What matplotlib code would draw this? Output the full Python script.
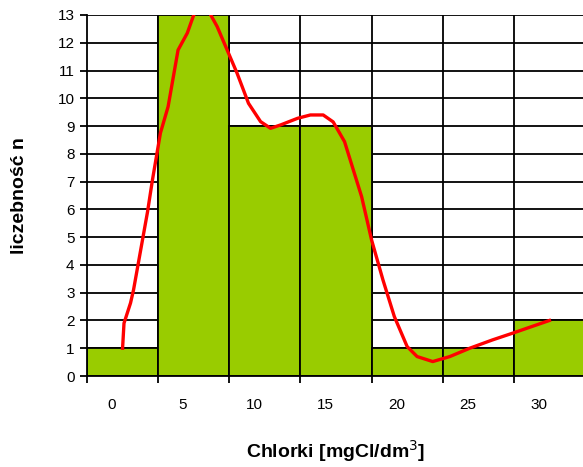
import numpy as np
import matplotlib.pyplot as plt
from matplotlib.ticker import FixedLocator

plt.rcParams['font.family'] = ['Liberation Sans', 'DejaVu Sans']

# histogram classes (class centre, mgCl/dm3) and counts
class_labels = ['0', '5', '10', '15', '20', '25', '30']
counts = [1, 13, 9, 9, 1, 1, 2]

# smoothed curve (mgCl/dm3, n)
curve_x = [0.0, 0.1, 0.56, 0.77, 1.26, 1.75, 2.1, 2.66, 3.2, 3.9, 4.55, 5.0,
           5.6, 6.2, 6.65, 7.35, 8.05, 8.85, 9.7, 10.4, 11.1, 12.3, 13.2,
           14.1, 14.8, 15.6, 16.0, 16.8, 17.5, 18.3, 19.1, 20.0, 20.7, 21.8,
           23.0, 24.4, 26.0, 27.4, 30.0]
curve_y = [1.0, 1.9, 2.63, 3.1, 4.5, 5.9, 7.06, 8.75, 9.7, 11.74, 12.35, 13.0,
           13.5, 13.0, 12.58, 11.74, 10.9, 9.82, 9.16, 8.92, 9.04, 9.28, 9.4,
           9.4, 9.15, 8.44, 7.78, 6.46, 4.9, 3.46, 2.14, 1.06, 0.7, 0.52,
           0.7, 1.0, 1.3, 1.54, 2.0]

fig = plt.figure(figsize=(5.83, 4.67), dpi=100)
ax = fig.add_axes([87/583, 91/467, 498/583, 361/467])

index = np.arange(len(counts))
ax.bar(index, counts, width=1.0, color='#99CC00', edgecolor='black',
       linewidth=1.3, zorder=2)

ax.plot(np.array(curve_x) / 5.0, curve_y, color='#FF0000', linewidth=2.4,
        zorder=3, solid_joinstyle='round')

ax.set_xlim(-0.5, len(counts) - 0.5)
ax.set_ylim(0, 13)

# horizontal grid + vertical lines at class borders
ax.set_yticks(range(0, 14))
ax.yaxis.grid(True, color='black', linewidth=1.3, zorder=1)
for b in index[:-1] + 0.5:
    ax.axvline(b, color='black', linewidth=1.3, zorder=1)
ax.set_axisbelow(True)

ax.xaxis.set_major_locator(FixedLocator(index - 0.15))
ax.set_xticklabels(class_labels)
ax.xaxis.set_minor_locator(FixedLocator(np.arange(-0.5, len(counts), 1.0)))
ax.tick_params(axis='x', which='major', length=0, pad=16, labelsize=11)
ax.tick_params(axis='x', which='minor', length=5, width=1.3, direction='out')
ax.tick_params(axis='y', length=5, width=1.3, direction='out', labelsize=11, pad=4)

for s in ['top', 'right']:
    ax.spines[s].set_visible(False)
ax.spines['left'].set_linewidth(1.3)
ax.spines['bottom'].set_linewidth(1.3)
ax.spines['bottom'].set_zorder(4)

ax.set_xlabel('Chlorki [mgCl/dm$^3$]', fontsize=14, fontweight='bold')
ax.set_ylabel('liczebność n', fontsize=14, fontweight='bold')
ax.xaxis.set_label_coords(0.5, -0.172)
ax.yaxis.set_label_coords(-0.118, 0.5)

fig.savefig('out.png', dpi=100)
